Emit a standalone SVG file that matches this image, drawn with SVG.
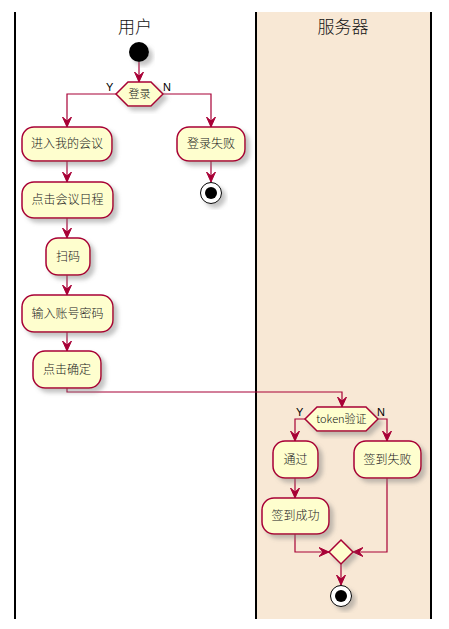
<svg xmlns="http://www.w3.org/2000/svg" width="449" height="629" viewBox="0 0 449 629">
  <style>
    .lane { stroke: #000000; stroke-width: 2; }
    .title { font-family: "Noto Sans CJK SC", "Liberation Sans", sans-serif; font-size: 17px; font-weight: 300; fill: #111111; text-anchor: middle; }
    .box { fill: #FEFECE; stroke: #A80036; stroke-width: 1.5; filter: url(#shadow); }
    .label { font-family: "Noto Sans CJK SC", "Liberation Sans", sans-serif; font-size: 12px; font-weight: 300; fill: #222222; text-anchor: middle; }
    .dlabel { font-family: "Noto Sans CJK SC", "Liberation Sans", sans-serif; font-size: 11px; font-weight: 300; fill: #111111; text-anchor: middle; }
    .yn { font-family: "Liberation Sans", sans-serif; font-size: 11px; fill: #000000; }
    .edge { fill: none; stroke: #A80036; stroke-width: 1.2; }
  </style>
  <defs>
    <filter id="shadow" x="-30%" y="-30%" width="160%" height="160%">
      <feGaussianBlur in="SourceAlpha" stdDeviation="2"/>
      <feOffset dx="4" dy="4" result="blur"/>
      <feColorMatrix in="blur" type="matrix" values="0 0 0 0 0.2  0 0 0 0 0.2  0 0 0 0 0.2  0 0 0 0.45 0" result="sh"/>
      <feMerge><feMergeNode in="sh"/><feMergeNode in="SourceGraphic"/></feMerge>
    </filter>
    <marker id="arrow" viewBox="0 0 10 10" markerWidth="10" markerHeight="10" refX="10" refY="5" orient="auto" markerUnits="userSpaceOnUse">
      <polygon points="0,0.5 10,5 0,9.5 4,5" fill="#A80036" stroke="#A80036" stroke-width="1"/>
    </marker>
  </defs>

  <!-- swimlanes -->
  <g id="lanes">
    <rect x="256" y="12" width="175" height="607" fill="#F8E8D5"/>
    <line class="lane" x1="15" y1="12" x2="15" y2="619"/>
    <line class="lane" x1="256" y1="12" x2="256" y2="619"/>
    <line class="lane" x1="431" y1="12" x2="431" y2="619"/>
    <text class="title" x="135" y="33">用户</text>
    <text class="title" x="343" y="33">服务器</text>
  </g>

  <!-- connectors -->
  <g id="connectors">
    <path class="edge" d="M139,62 V82" marker-end="url(#arrow)"/>
    <path class="edge" d="M116,94 H67 V127" marker-end="url(#arrow)"/>
    <path class="edge" d="M163,94 H211 V127" marker-end="url(#arrow)"/>
    <path class="edge" d="M211,161 V182" marker-end="url(#arrow)"/>
    <path class="edge" d="M67,161 V182" marker-end="url(#arrow)"/>
    <path class="edge" d="M67,218 V238" marker-end="url(#arrow)"/>
    <path class="edge" d="M67,275 V295" marker-end="url(#arrow)"/>
    <path class="edge" d="M67,332 V351" marker-end="url(#arrow)"/>
    <path class="edge" d="M67,388 V392 H342 V407" marker-end="url(#arrow)"/>
    <path class="edge" d="M305,419 H295 V441" marker-end="url(#arrow)"/>
    <path class="edge" d="M378,419 H387 V441" marker-end="url(#arrow)"/>
    <path class="edge" d="M295,478 V498" marker-end="url(#arrow)"/>
    <path class="edge" d="M295,534 V552 H329" marker-end="url(#arrow)"/>
    <path class="edge" d="M387,478 V552 H353" marker-end="url(#arrow)"/>
    <path class="edge" d="M341,564 V585" marker-end="url(#arrow)"/>
  </g>

  <!-- nodes -->
  <g id="start">
    <circle cx="139" cy="52" r="10" fill="#000000" filter="url(#shadow)"/>
  </g>

  <g id="decision-login">
    <polygon class="box" points="116,94 128,82 151,82 163,94 151,106 128,106"/>
    <text class="dlabel" x="139.5" y="98">登录</text>
    <text class="yn" x="106" y="91">Y</text>
    <text class="yn" x="163" y="91">N</text>
  </g>

  <g id="enter-meeting">
    <rect class="box" x="22" y="127" width="90" height="34" rx="12" ry="12"/>
    <text class="label" x="67" y="148">进入我的会议</text>
  </g>

  <g id="login-failed">
    <rect class="box" x="177" y="127" width="68" height="34" rx="12" ry="12"/>
    <text class="label" x="211" y="148">登录失败</text>
  </g>

  <g id="stop-login">
    <circle cx="211" cy="193" r="10.5" fill="#FFFFFF" stroke="#000000" stroke-width="1" filter="url(#shadow)"/>
    <circle cx="211" cy="193" r="6" fill="#000000"/>
  </g>

  <g id="open-schedule">
    <rect class="box" x="22" y="182" width="91" height="36" rx="12" ry="12"/>
    <text class="label" x="67.5" y="204">点击会议日程</text>
  </g>

  <g id="scan">
    <rect class="box" x="46" y="238" width="44" height="37" rx="12" ry="12"/>
    <text class="label" x="68" y="261">扫码</text>
  </g>

  <g id="enter-credentials">
    <rect class="box" x="22" y="295" width="91" height="37" rx="12" ry="12"/>
    <text class="label" x="67.5" y="318">输入账号密码</text>
  </g>

  <g id="confirm">
    <rect class="box" x="33" y="351" width="68" height="37" rx="12" ry="12"/>
    <text class="label" x="67" y="374">点击确定</text>
  </g>

  <g id="decision-token">
    <polygon class="box" points="305,419 317,407 366,407 378,419 366,431 317,431"/>
    <text class="dlabel" x="341.5" y="423">token验证</text>
    <text class="yn" x="296" y="416">Y</text>
    <text class="yn" x="377" y="416">N</text>
  </g>

  <g id="passed">
    <rect class="box" x="273" y="441" width="45" height="37" rx="12" ry="12"/>
    <text class="label" x="295.5" y="464">通过</text>
  </g>

  <g id="checkin-failed">
    <rect class="box" x="354" y="441" width="67" height="37" rx="12" ry="12"/>
    <text class="label" x="387.5" y="464">签到失败</text>
  </g>

  <g id="checkin-success">
    <rect class="box" x="262" y="498" width="67" height="36" rx="12" ry="12"/>
    <text class="label" x="295.5" y="520">签到成功</text>
  </g>

  <g id="merge">
    <polygon class="box" points="341,540 353,552 341,564 329,552"/>
  </g>

  <g id="stop-end">
    <circle cx="341" cy="596" r="10.5" fill="#FFFFFF" stroke="#000000" stroke-width="1" filter="url(#shadow)"/>
    <circle cx="341" cy="596" r="6" fill="#000000"/>
  </g>
</svg>
